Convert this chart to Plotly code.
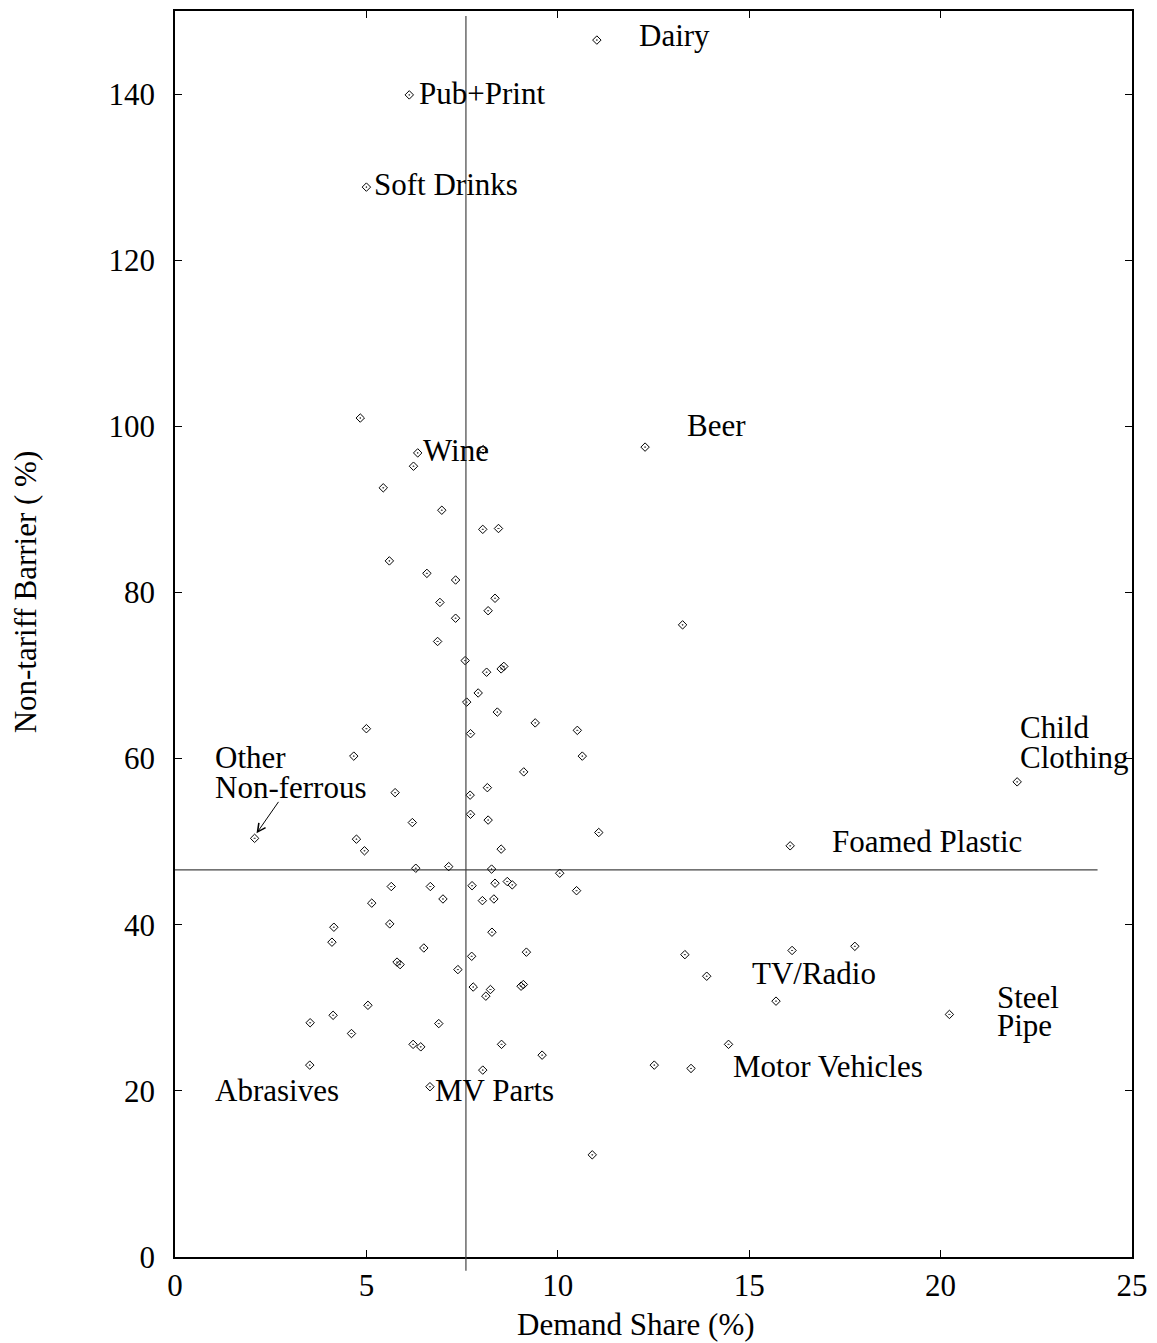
import plotly.graph_objects as go

# Demand share (%) and non-tariff barrier (%) for each industry
share = [11.02, 6.12, 5.00, 4.84, 6.34, 6.23, 8.05, 12.28, 5.44, 6.97, 8.04, 8.45, 5.60, 6.58, 7.33,
         8.36, 6.92, 8.18, 7.33, 13.26, 6.86, 7.58, 8.14, 8.52, 8.59, 7.92, 7.62, 8.42, 9.41, 5.00,
         10.51, 7.72, 4.67, 10.64, 9.11, 5.75, 8.16, 7.71, 7.72, 8.18, 6.20, 11.07, 4.74, 4.95, 8.52,
         2.08, 16.07, 22.0, 6.29, 7.15, 8.27, 10.05, 10.49, 5.65, 6.67, 7.76, 8.36, 8.68, 8.81, 7.00,
         8.03, 8.33, 5.14, 4.15, 5.61, 8.28, 4.10, 6.50, 17.76, 16.12, 9.18, 7.75, 13.32, 5.80, 5.88,
         7.39, 13.89, 7.79, 8.24, 8.12, 9.04, 9.10, 5.04, 15.70, 20.23, 4.13, 3.53, 6.89, 4.61, 6.22,
         6.42, 8.53, 14.46, 9.59, 3.52, 12.52, 13.48, 8.04, 6.66, 10.90]
ntb = [146.5, 139.9, 128.8, 101.0, 96.8, 95.2, 97.2, 97.5, 92.6, 89.9, 87.6, 87.7, 83.8, 82.3, 81.5,
       79.3, 78.8, 77.8, 76.9, 76.1, 74.1, 71.8, 70.4, 70.8, 71.1, 67.9, 66.8, 65.6, 64.3, 63.6,
       63.4, 63.0, 60.3, 60.3, 58.4, 55.9, 56.5, 55.6, 53.3, 52.6, 52.3, 51.1, 50.3, 48.9, 49.1,
       50.4, 49.5, 57.2, 46.8, 47.0, 46.7, 46.2, 44.1, 44.6, 44.6, 44.7, 45.0, 45.2, 44.8, 43.1,
       42.9, 43.1, 42.6, 39.7, 40.1, 39.1, 37.9, 37.2, 37.4, 36.9, 36.7, 36.2, 36.4, 35.5, 35.2,
       34.6, 33.8, 32.5, 32.2, 31.4, 32.6, 32.8, 30.3, 30.8, 29.2, 29.1, 28.2, 28.1, 26.9, 25.6,
       25.3, 25.6, 25.6, 24.3, 23.1, 23.1, 22.7, 22.5, 20.5, 12.3]

# Reference (average) lines
share_ref = 7.6
ntb_ref = 46.6

# Industry labels
label_text = ["Dairy", "Pub+Print", "Soft Drinks", "Wine", "Beer", "Child", "Clothing", "Other",
              "Non-ferrous", "Foamed Plastic", "TV/Radio", "Steel", "Pipe", "Motor Vehicles",
              "Abrasives", "MV Parts"]
label_x = [12.08, 6.32, 5.15, 6.42, 13.31, 22.02, 22.02, 0.99, 0.99, 17.11, 15.03, 21.43, 21.43,
           14.53, 0.99, 6.74]
label_y = [147.0, 140.1, 129.1, 97.1, 100.1, 63.7, 60.1, 60.1, 56.5, 50.0, 34.1, 31.2, 27.9,
           22.9, 20.0, 20.0]

# Tick values
x_ticks = [0, 5, 10, 15, 20, 25]
y_ticks = [0, 20, 40, 60, 80, 100, 120, 140]

FONT = "Liberation Serif"
FS = 31

fig = go.Figure()

# horizontal reference line
fig.add_trace(go.Scatter(x=[0, 24.1], y=[ntb_ref, ntb_ref], mode="lines",
                         line=dict(color="#444444", width=1.2), hoverinfo="skip", showlegend=False))

# vertical reference line
fig.add_shape(type="line", xref="x", yref="paper", x0=share_ref, x1=share_ref, y0=-0.011, y1=0.996,
              line=dict(color="#444444", width=1.2))

fig.add_trace(go.Scatter(x=share, y=ntb, mode="markers",
                         marker=dict(symbol="diamond-open-dot", size=6.5, color="black",
                                     line=dict(color="black", width=1)),
                         showlegend=False))

for t, lx, ly in zip(label_text, label_x, label_y):
    fig.add_annotation(x=lx, y=ly, text=t, showarrow=False, xanchor="left", yanchor="middle",
                       font=dict(family=FONT, size=FS, color="black"))

# arrow pointing to the "Other Non-ferrous" point
fig.add_annotation(x=share[45] + 0.05, y=ntb[45] + 0.6, text="", showarrow=True, arrowhead=5,
                   arrowsize=1.6, arrowwidth=1, arrowcolor="black", ax=23, ay=-33, standoff=0)

# axis titles
fig.add_annotation(xref="paper", yref="paper", x=0.482, y=-0.0545, text="Demand Share (%)",
                   showarrow=False, xanchor="center", yanchor="middle",
                   font=dict(family=FONT, size=FS, color="black"))
fig.add_annotation(xref="paper", yref="paper", x=-0.156, y=0.534, text="Non-tariff Barrier ( %)",
                   showarrow=False, xanchor="center", yanchor="middle", textangle=-90,
                   font=dict(family=FONT, size=FS, color="black"))

axis_common = dict(showgrid=False, zeroline=False, showline=True, linecolor="black", linewidth=1.5,
                   mirror="ticks", ticks="inside", ticklen=7, tickwidth=1.2, tickcolor="black",
                   tickfont=dict(family=FONT, size=FS, color="black"))

fig.update_xaxes(range=[0, 25], tickvals=x_ticks, ticklabelstandoff=0, **axis_common)
fig.update_yaxes(range=[0, 150], tickvals=y_ticks, ticklabelstandoff=12, **axis_common)

fig.update_layout(width=1157, height=1343, plot_bgcolor="white", paper_bgcolor="white",
                  margin=dict(l=175, r=22, t=9, b=86), showlegend=False,
                  font=dict(family=FONT, size=FS, color="black"))

fig.write_html("out.html", config={"displayModeBar": False},
               post_script="document.body.style.margin='0';document.body.style.overflow='hidden';")
